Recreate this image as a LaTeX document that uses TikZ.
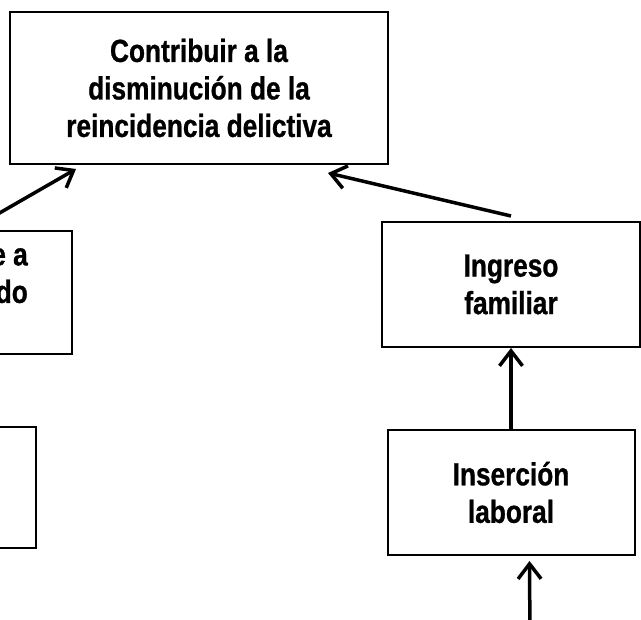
\documentclass[tikz,border=0pt]{standalone}
\usepackage{fontspec}
\setmainfont{Liberation Sans}[FakeStretch=0.82, BoldFeatures={FakeBold=0.8}]
\usetikzlibrary{positioning, arrows.meta, calc}

\begin{document}
\begin{tikzpicture}[x=1pt, y=-1pt,
    letra/.style={font=\fontsize{32}{37.5}\selectfont\bfseries},
    caja/.style={letra, draw=black, line width=2pt, inner sep=0pt, align=center},
    flecha/.style={line width=3.5pt, -{Straight Barb[length=15pt, width=23pt]}}]
  \useasboundingbox (0,0) rectangle (641,620);
  \clip (0,0) rectangle (641,620);

  % goal box
  \node[caja, minimum width=378pt, minimum height=152pt] (meta_box) at (199,88)
       {Contribuir a la\\disminución de la\\reincidencia delictiva};

  % boxes on the left, cut by the frame
  \node[caja, minimum width=204pt, minimum height=123pt, anchor=north east]
       (acceso_box) at (73,230) {};
  \node[letra, align=right, inner sep=0pt, anchor=east] (acceso_txt) at (28,275.7)
       {e a\\do};
  \node[caja, minimum width=204pt, minimum height=121pt, anchor=north east]
       (izq_box) at (37,426) {};

  % right column
  \node[caja, minimum width=258pt, minimum height=125pt] (ingreso_box) at (511,284.5)
       {Ingreso\\familiar};
  \node[caja, minimum width=247pt, minimum height=125pt, below=81pt of ingreso_box]
       (insercion_box) {Inserción\\laboral};
  \coordinate (entrada) at (530,640);

  \draw[flecha] (acceso_box.north) -- ($(meta_box.south west)+(67,4)$);
  \draw[flecha] ($(ingreso_box.north)+(0,-5)$) -- ($(meta_box.south east)+(-61,8)$);
  \draw[flecha] (insercion_box.north) -- (ingreso_box.south);
  \draw[flecha] (entrada) -- ($(insercion_box.south)+(18.5,5)$);
\end{tikzpicture}
\end{document}
